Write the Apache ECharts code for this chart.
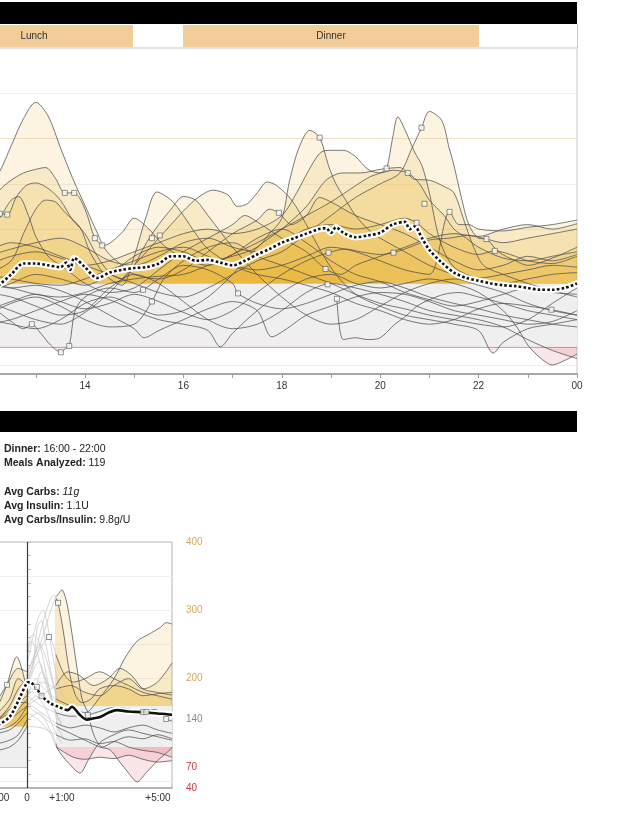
<!DOCTYPE html>
<html><head><meta charset="utf-8">
<script src="https://cdn.jsdelivr.net/npm/echarts@6/dist/echarts.min.js"></script>
<style>html,body{margin:0;padding:0;background:#fff}#c{width:639px;height:834px}</style>
</head><body><div id="c"></div>
<script>
// ---------------- DATA: daily overlay (hour of day, mg/dL) ----------------
const hourTicks = [13,14,15,16,17,18,19,20,21,22,23,24];
const hourLabels = [14,16,18,20,22,24];
const mealBands = [['Lunch', 0, 133], ['Dinner', 183, 479]];
const dayTrace01 = [[12.0,245],[12.25,262],[12.5,292],[12.75,322],[13.0,340],[13.25,325],[13.5,290],[13.75,256],[14.0,226],[14.25,196],[14.4,182],[14.75,196],[15.0,212],[15.3,200],[15.6,182],[16.0,168],[16.5,160],[17.0,172],[17.5,190],[18.0,200],[18.5,185],[19.0,165],[19.5,150],[20.0,142],[20.5,130],[21.0,122],[21.5,115],[22.0,120],[22.5,128],[23.0,135],[23.5,130],[24.0,128]];
const dayTrace02 = [[12.0,225],[12.3,245],[12.5,254],[12.75,262],[13.0,266],[13.2,268],[13.4,256],[13.59,240],[13.78,240],[14.0,222],[14.2,190],[14.35,182],[14.5,172],[14.75,160],[15.0,150],[15.5,145],[16.0,155],[16.5,175],[17.0,195],[17.5,210],[17.75,222],[17.94,218],[18.2,205],[18.5,215],[18.77,235],[19.0,230],[19.5,215],[20.0,205],[20.5,195],[21.0,180],[21.5,165],[22.0,155],[22.5,160],[23.0,170],[23.5,165],[24.0,172]];
const dayTrace03 = [[12.0,205],[12.27,217],[12.42,216],[12.6,235],[12.8,248],[13.0,251],[13.25,245],[13.5,232],[13.75,210],[14.0,195],[14.25,170],[14.5,152],[14.75,145],[15.0,160],[15.25,185],[15.5,205],[15.75,222],[16.0,236],[16.25,232],[16.5,215],[17.0,180],[17.5,150],[18.0,125],[18.5,105],[19.0,95],[19.5,100],[20.0,115],[20.5,130],[21.0,140],[21.5,145],[22.0,138],[22.5,130],[23.0,118],[23.5,110],[24.0,105]];
const dayTrace04 = [[12.0,190],[12.3,215],[12.5,232],[12.65,236],[12.85,215],[13.0,192],[13.25,170],[13.5,160],[13.75,150],[14.0,140],[14.5,130],[15.0,135],[15.5,155],[16.0,175],[16.5,190],[17.0,205],[17.25,215],[17.5,208],[18.0,190],[18.5,175],[18.89,156],[19.2,150],[19.5,160],[20.0,170],[20.5,180],[21.0,190],[21.5,195],[22.0,192],[22.5,200],[23.0,205],[23.5,200],[24.0,206]];
const dayTrace05 = [[12.0,150],[12.5,165],[12.75,195],[13.0,222],[13.2,232],[13.4,230],[13.6,218],[13.9,202],[14.1,175],[14.4,150],[14.75,138],[15.0,170],[15.25,215],[15.46,241],[15.75,232],[16.0,215],[16.25,195],[16.5,178],[17.0,160],[17.5,150],[18.0,145],[18.5,138],[19.0,130],[19.5,118],[20.0,110],[20.5,100],[21.0,95],[21.5,100],[22.0,112],[22.5,118],[23.0,115],[23.48,111],[24.0,105]];
const dayTrace06 = [[12.0,120],[12.5,110],[13.0,100],[13.5,95],[14.0,108],[14.5,130],[15.0,160],[15.5,190],[15.75,205],[16.0,220],[16.3,235],[16.6,243],[16.9,238],[17.1,225],[17.3,228],[17.5,240],[17.7,252],[17.9,248],[18.2,232],[18.5,205],[18.8,175],[19.1,150],[19.5,128],[20.0,115],[20.5,105],[21.0,100],[21.5,95],[22.0,88],[22.3,63],[22.5,75],[23.0,90],[23.5,95],[24.0,100]];
const dayTrace07 = [[12.0,130],[12.5,140],[13.0,150],[13.5,145],[14.0,138],[14.5,150],[15.0,170],[15.5,180],[16.0,175],[16.5,165],[17.0,170],[17.5,180],[17.75,195],[18.0,212],[18.16,254],[18.35,290],[18.57,309],[18.77,301],[18.95,270],[19.1,250],[19.3,232],[19.5,215],[19.75,200],[20.0,190],[20.5,175],[21.0,160],[21.5,150],[22.0,145],[22.5,140],[23.0,145],[23.5,150],[24.0,152]];
const dayTrace08 = [[12.0,160],[12.5,170],[13.0,175],[13.5,168],[14.0,160],[14.5,165],[15.0,175],[15.5,185],[16.0,195],[16.5,200],[17.0,195],[17.5,200],[18.0,215],[18.3,240],[18.6,270],[18.8,285],[19.0,287],[19.25,287],[19.5,280],[19.75,266],[20.0,262],[20.25,265],[20.56,262],[20.8,250],[21.0,232],[21.3,215],[21.5,200],[21.75,190],[22.0,180],[22.5,168],[23.0,165],[23.5,170],[24.0,175]];
const dayTrace09 = [[12.0,140],[12.5,135],[13.0,128],[13.5,125],[14.0,130],[14.5,140],[15.0,145],[15.5,148],[16.0,150],[16.5,160],[17.0,172],[17.5,185],[18.0,200],[18.5,215],[19.0,230],[19.5,248],[19.8,258],[20.0,262],[20.13,267],[20.25,300],[20.36,324],[20.5,310],[20.7,285],[20.85,270],[21.0,240],[21.15,200],[21.3,175],[21.5,158],[21.75,150],[22.0,146],[22.5,150],[23.0,155],[23.5,160],[24.0,158]];
const dayTrace10 = [[12.0,175],[12.5,185],[13.0,180],[13.5,170],[14.0,160],[14.5,150],[15.0,140],[15.5,130],[16.0,125],[16.5,135],[17.0,150],[17.5,165],[18.0,175],[18.5,195],[19.0,215],[19.5,235],[20.0,250],[20.4,262],[20.65,290],[20.84,312],[21.0,330],[21.25,320],[21.4,290],[21.5,270],[21.65,235],[21.8,205],[22.0,190],[22.16,189],[22.4,175],[22.75,165],[23.0,160],[23.5,168],[24.0,180]];
const dayTrace11 = [[12.0,100],[12.5,95],[13.0,90],[13.5,100],[14.0,118],[14.5,125],[15.0,115],[15.5,105],[16.0,110],[16.5,125],[17.0,150],[17.5,180],[18.0,200],[18.5,225],[18.9,254],[19.24,262],[19.6,262],[20.0,266],[20.4,268],[20.7,255],[21.0,254],[21.3,247],[21.5,240],[21.7,210],[21.9,180],[22.1,160],[22.5,150],[23.0,140],[23.5,132],[24.0,125]];
const dayTrace12 = [[12.0,110],[12.5,120],[13.0,128],[13.5,120],[14.0,112],[14.5,118],[15.0,128],[15.5,120],[16.0,108],[16.5,100],[17.0,110],[17.5,130],[18.0,150],[18.5,165],[18.95,174],[19.3,178],[19.6,175],[20.0,172],[20.27,174],[20.6,180],[21.0,188],[21.4,190],[21.8,193],[22.16,189],[22.5,185],[23.0,190],[23.5,195],[24.0,200]];
const dayTrace13 = [[19.12,123],[19.25,78],[19.5,80],[19.75,78],[20.0,80],[20.3,95],[20.5,103],[20.75,115],[21.0,122],[21.3,128],[21.6,130],[22.0,125],[22.5,118],[23.0,110],[23.5,105],[24.0,100]];
const dayTrace14 = [[12.0,95],[12.5,100],[13.0,110],[13.5,120],[14.0,128],[14.5,122],[15.0,110],[15.5,100],[16.0,95],[16.5,88],[16.75,70],[17.0,85],[17.5,110],[18.0,130],[18.5,145],[19.0,150],[19.5,140],[20.0,135],[20.5,140],[21.0,145],[21.5,140],[22.0,130],[22.5,110],[22.8,90],[23.0,72],[23.25,58],[23.5,50],[23.75,55],[24.0,62]];
const dayTrace15 = [[12.0,130],[12.5,125],[13.0,115],[13.5,105],[14.0,110],[14.5,135],[15.0,150],[15.5,140],[16.0,120],[16.5,100],[17.0,90],[17.5,95],[18.0,110],[18.5,130],[19.0,140],[19.5,135],[20.0,128],[20.5,120],[21.0,110],[21.5,105],[22.0,100],[22.5,92],[23.0,78],[23.5,66],[24.0,57]];
const dayTrace16 = [[12.0,115],[12.25,108],[12.5,98],[12.75,90],[12.92,95],[13.1,85],[13.3,72],[13.51,64],[13.6,68],[13.68,71],[13.8,110],[14.0,125],[14.5,135],[15.0,130],[15.18,133],[15.5,145],[16.0,160],[16.5,155],[17.0,140],[17.11,129],[17.5,118],[18.0,112],[18.5,118],[19.0,128],[19.5,138],[20.0,142],[20.5,135],[21.0,125],[21.5,118],[22.0,112],[22.5,105],[23.0,100],[23.5,95],[24.0,92]];
const dayTrace17 = [[12.0,105],[12.5,118],[13.0,125],[13.5,115],[14.0,100],[14.5,92],[15.0,95],[15.36,120],[15.6,145],[16.0,165],[16.5,180],[17.0,185],[17.5,170],[18.0,160],[18.5,150],[19.0,140],[19.5,128],[20.0,118],[20.5,112],[21.0,105],[21.5,100],[22.0,95],[22.5,92],[23.0,100],[23.5,118],[24.0,135]];
const dayTrace18 = [[12.0,170],[12.5,178],[13.0,185],[13.5,190],[14.0,180],[14.5,165],[15.0,160],[15.5,170],[16.0,185],[16.5,190],[17.0,180],[17.5,175],[18.0,185],[18.5,200],[19.0,205],[19.5,200],[20.0,205],[20.5,212],[20.74,207],[21.0,195],[21.5,180],[22.0,172],[22.33,176],[22.75,170],[23.0,165],[23.5,162],[24.0,170]];
const dayTrace19 = [[12.0,140],[12.5,135],[13.0,138],[13.5,132],[14.0,120],[14.5,105],[15.0,90],[15.2,80],[15.5,88],[16.0,100],[16.5,112],[17.0,120],[17.5,110],[17.8,81],[18.1,90],[18.5,105],[19.0,115],[19.5,125],[20.0,130],[20.5,128],[21.0,120],[21.5,110],[22.0,105],[22.5,100],[23.0,95],[23.5,98],[24.0,110]];
const dayTrace20 = [[12.0,150],[12.5,145],[13.0,140],[13.5,138],[14.0,145],[14.5,155],[15.0,165],[15.5,175],[16.0,180],[16.5,170],[17.0,160],[17.5,155],[18.0,160],[18.5,170],[19.0,180],[19.5,175],[20.0,165],[20.5,155],[21.0,150],[21.41,219],[21.6,205],[21.8,205],[22.0,200],[22.5,198],[23.0,202],[23.5,205],[24.0,210]];
const dayMedian = [[12.0,128],[12.25,138],[12.5,150],[12.75,162],[13.0,162],[13.25,160],[13.5,158],[13.62,163],[13.7,155],[13.78,168],[14.0,158],[14.25,146],[14.5,152],[14.75,155],[15.0,157],[15.25,158],[15.5,162],[15.75,170],[16.0,170],[16.25,165],[16.5,166],[16.75,163],[17.0,160],[17.25,165],[17.5,172],[17.75,178],[18.0,185],[18.25,190],[18.5,195],[18.75,200],[18.9,201],[19.0,196],[19.1,202],[19.25,196],[19.5,191],[19.75,193],[20.0,196],[20.25,205],[20.5,208],[20.6,200],[20.7,203],[20.85,190],[21.0,177],[21.25,163],[21.5,152],[21.75,146],[22.0,143],[22.25,140],[22.5,138],[22.75,137],[23.0,135],[23.25,133],[23.5,133],[23.75,135],[24.0,140]];
const dayMarkers = [[12.27,217],[12.42,216],[12.92,95],[13.51,64],[13.59,240],[13.68,71],[13.78,240],[14.2,190],[14.35,182],[15.18,133],[15.36,120],[15.36,190],[15.52,193],[17.11,129],[17.94,218],[18.77,301],[18.89,156],[18.93,139],[18.95,174],[19.12,123],[20.13,267],[20.27,174],[20.56,262],[20.74,207],[20.84,312],[20.9,228],[21.41,219],[22.16,189],[22.33,176],[23.48,111]];

// ---------------- DATA: meal analysis (hours from meal, mg/dL) ----------------
const mealTickLabels = [-1,0,1,5];
const glucoseLabels = [40,70,140,200,300,400];
const mealTrace01 = [[-1,140],[-0.6,160],[-0.3,185],[0,200],[0.3,230],[0.6,270],[0.9,310],[1.0,320],[1.1,325],[1.2,330],[1.35,315],[1.5,280],[1.72,217],[1.9,170],[2.1,150],[2.3,118],[2.6,100],[3.0,108],[3.5,115],[4.0,112],[4.5,118],[5.0,112]];
const mealTrace02 = [[-1,150],[-0.6,170],[-0.3,200],[0,190],[0.3,240],[0.6,290],[0.85,320],[0.95,322],[1.0,318],[1.07,311],[1.25,270],[1.45,213],[1.65,178],[1.9,165],[2.2,170],[2.5,185],[3.0,190],[3.5,185],[4.0,175],[4.5,178],[5.0,180]];
const mealTrace03 = [[-1,135],[-0.6,140],[-0.3,155],[0,170],[0.3,200],[0.6,185],[1.0,170],[1.5,160],[2.0,150],[2.5,172],[3.0,200],[3.4,232],[3.8,255],[4.2,265],[4.6,275],[4.8,282],[5.0,280]];
const mealTrace04 = [[-1,160],[-0.7,190],[-0.35,232],[-0.15,210],[0,180],[0.5,195],[1.0,185],[1.5,190],[2.0,180],[2.5,175],[3.0,190],[3.5,200],[4.0,185],[4.5,195],[5.0,223]];
const mealTrace05 = [[-1,170],[-0.69,191],[-0.3,215],[0,210],[0.4,240],[0.76,261],[1.0,235],[1.3,205],[1.6,195],[2.0,200],[2.5,210],[3.0,200],[3.5,190],[4.0,180],[4.5,175],[5.0,170]];
const mealTrace06 = [[-1,125],[-0.6,130],[-0.3,140],[0,160],[0.5,175],[1.0,190],[1.4,210],[1.8,205],[2.3,190],[2.8,200],[3.2,215],[3.6,205],[4.0,185],[4.5,180],[5.0,176]];
const mealTrace07 = [[-1,140],[-0.6,150],[-0.3,165],[0,175],[0.5,160],[1.0,150],[1.5,145],[2.1,147],[2.5,152],[3.0,158],[3.5,156],[4.0,152],[4.4,155],[4.8,141],[5.0,138]];
const mealTrace08 = [[-1,120],[-0.6,125],[-0.3,135],[0,150],[0.4,140],[0.8,120],[1.0,100],[1.3,92],[1.6,85],[2.0,82],[2.5,85],[3.0,83],[3.5,88],[4.0,82],[4.5,78],[5.0,80]];
const mealTrace09 = [[-1,105],[-0.6,110],[-0.3,118],[0,140],[0.4,150],[0.8,125],[1.0,105],[1.07,96],[1.4,78],[1.83,62],[2.1,80],[2.5,106],[3.0,118],[3.5,125],[4.0,120],[4.5,115],[5.0,110]];
const mealTrace10 = [[-1,130],[-0.6,140],[-0.3,150],[0,160],[0.5,145],[1.0,130],[1.5,120],[2.0,110],[2.5,100],[2.86,96],[3.2,78],[3.5,62],[3.8,49],[4.1,62],[4.5,80],[4.93,96],[5.0,100]];
const mealTrace11 = [[-1,140],[-0.6,155],[-0.3,165],[0,165],[0.5,150],[1.0,135],[1.5,128],[2.0,132],[2.5,128],[3.0,122],[3.5,128],[4.0,132],[4.5,125],[5.0,120]];
const mealTrace12 = [[-1,95],[-0.6,100],[-0.3,110],[0,130],[0.5,128],[1.0,118],[1.5,110],[2.0,112],[2.5,105],[3.0,108],[3.5,100],[4.0,95],[4.5,92],[5.0,85]];
const mealEarly01 = [[0,220],[0.2,260],[0.4,290],[0.55,300],[0.7,280],[0.9,230],[1.1,190],[1.3,170]];
const mealEarly02 = [[0,205],[0.25,235],[0.45,250],[0.65,230],[0.85,200],[1.0,175],[1.2,150]];
const mealEarly03 = [[0,185],[0.2,210],[0.4,225],[0.6,205],[0.8,175],[1.0,150],[1.2,135]];
const mealEarly04 = [[0,230],[0.15,255],[0.3,245],[0.5,215],[0.7,185],[0.9,160],[1.1,140]];
const mealEarly05 = [[0,175],[0.3,190],[0.5,210],[0.7,195],[0.9,165],[1.1,125],[1.3,110]];
const mealEarly06 = [[0,195],[0.2,215],[0.35,275],[0.5,285],[0.65,250],[0.85,205],[1.05,170]];
const mealEarly07 = [[0,160],[0.3,175],[0.6,160],[0.8,140],[1.0,120],[1.2,105]];
const mealEarly08 = [[0,240],[0.2,265],[0.4,255],[0.6,220],[0.8,180],[1.0,150],[1.2,130]];
const mealMedian = [[-1,132],[-0.6,144],[-0.24,173],[0,194],[0.1,195],[0.3,187],[0.55,173],[0.8,164],[1.07,159],[1.3,155],[1.41,154],[1.55,159],[1.8,148],[2.07,140],[2.3,142],[2.52,144],[2.8,150],[3.1,154],[3.5,152],[4.0,151],[4.5,149],[4.83,148],[5.0,147]];
const mealMarkers = [[-0.69,191],[0.34,188],[0.5,175],[0.76,261],[1.07,311],[2.1,147],[4.0,151],[4.12,151],[4.8,141]];

// ---------------- LAYOUT ----------------
const FONT = '"Liberation Sans", Arial, sans-serif';
const SM = 0.3;
const D_TOP = 48, D_H = 326, D_LEFT = -2, D_W = 579, D_MIN = 12.232, D_MAX = 24;
const M_TOP = 542, M_H = 246, M_LEFT = -2, M_W = 174, M_MIN = -1, M_MAX = 5;
const kD = D_H / 360, kM = M_H / 360, pxH = M_W / (M_MAX - M_MIN);
const YELLOW = 'rgba(236,178,40,0.2)', PINK = 'rgba(222,80,100,0.2)';
const TRACE = '#4d4d4d', EARLY = '#c4c4c4';
// clip windows sit 1px away from the fill origin so no hairline appears at the origin
const gD = 1 / kD, gM = 1 / kM;

const dayTraces = [dayTrace01,dayTrace02,dayTrace03,dayTrace04,dayTrace05,dayTrace06,dayTrace07,dayTrace08,dayTrace09,dayTrace10,dayTrace11,dayTrace12,dayTrace13,dayTrace14,dayTrace15,dayTrace16,dayTrace17,dayTrace18,dayTrace19,dayTrace20];
const mealTraces = [mealTrace01,mealTrace02,mealTrace03,mealTrace04,mealTrace05,mealTrace06,mealTrace07,mealTrace08,mealTrace09,mealTrace10,mealTrace11,mealTrace12];
const mealEarly = [mealEarly01,mealEarly02,mealEarly03,mealEarly04,mealEarly05,mealEarly06,mealEarly07,mealEarly08];
const minOf = tr => Math.min.apply(null, tr.map(p => p[1]));

const dYmin = 140 + gD, dPmax = 70 - gD;
const mPreMin = 130 + gM, mPostMin = 160 + gM, mPinkMax = 100 - gM;
const grid = [
  {left:D_LEFT, top:D_TOP, width:D_W, height:D_H, show:true, borderColor:'#c6c6c6', borderWidth:1, backgroundColor:'transparent'},
  {left:D_LEFT, top:D_TOP, width:D_W, height:(400-dYmin)*kD},
  {left:D_LEFT, top:D_TOP+(400-dPmax)*kD, width:D_W, height:(dPmax-40)*kD},
  {left:M_LEFT, top:M_TOP, width:M_W, height:M_H, show:true, borderColor:'#b4b4b4', borderWidth:1, backgroundColor:'transparent'},
  {left:M_LEFT, top:M_TOP, width:pxH, height:(400-mPreMin)*kM},
  {left:M_LEFT+2*pxH, top:M_TOP, width:4*pxH, height:(400-mPostMin)*kM},
  {left:M_LEFT+2*pxH, top:M_TOP+(400-mPinkMax)*kM, width:4*pxH, height:(mPinkMax-40)*kM}
].map(g => Object.assign({containLabel:false, outerBoundsMode:'none'}, g));

const hidden = {show:false};
const xAxis = [
  {gridIndex:0, type:'value', min:D_MIN, max:D_MAX,
   axisLine:{show:true, lineStyle:{color:'#a8a8a8', width:2}},
   axisTick:{show:true, customValues:hourTicks, length:4, lineStyle:{color:'#a0a0a0'}},
   axisLabel:{customValues:hourLabels, formatter:v => v === 24 ? '00' : String(v), color:'#333', fontSize:10, fontFamily:FONT, margin:7},
   splitLine:hidden},
  {gridIndex:1, type:'value', min:D_MIN, max:D_MAX, show:false},
  {gridIndex:2, type:'value', min:D_MIN, max:D_MAX, show:false},
  {gridIndex:3, type:'value', min:M_MIN, max:M_MAX,
   axisLine:{show:true, lineStyle:{color:'#a8a8a8', width:1.5}},
   axisTick:hidden,
   axisLabel:{customValues:mealTickLabels, color:'#333', fontSize:10, fontFamily:FONT, margin:5,
     formatter:v => v === -1 ? '-1:00' : v === 0 ? '0' : v === 1 ? '{a|+1:00}' : '{b|+' + v + ':00}',
     rich:{a:{padding:[0,0,0,12], fontSize:10, fontFamily:FONT, color:'#333'}, b:{padding:[0,28,0,0], fontSize:10, fontFamily:FONT, color:'#333'}}},
   splitLine:hidden},
  {gridIndex:4, type:'value', min:-1, max:0, show:false},
  {gridIndex:5, type:'value', min:1, max:5, show:false},
  {gridIndex:6, type:'value', min:1, max:5, show:false}
];
const yAxis = [
  {gridIndex:0, type:'value', min:40, max:400, show:false},
  {gridIndex:1, type:'value', min:dYmin, max:400, show:false},
  {gridIndex:2, type:'value', min:40, max:dPmax, show:false},
  {gridIndex:3, type:'value', min:40, max:400, interval:20, position:'right',
   axisLine:{show:true, lineStyle:{color:'#b4b4b4'}},
   axisTick:{show:true, length:4, lineStyle:{color:'#bdbdbd'}},
   axisLabel:{customValues:glucoseLabels, margin:14, fontSize:10, fontFamily:FONT,
     formatter:v => v >= 200 ? '{g|' + v + '}' : v >= 100 ? '{n|' + v + '}' : '{r|' + v + '}',
     rich:{g:{color:'#d6ac5c', fontSize:10, fontFamily:FONT}, n:{color:'#8a8a8a', fontSize:10, fontFamily:FONT}, r:{color:'#c83a3a', fontSize:10, fontFamily:FONT}}},
   splitLine:hidden},
  {gridIndex:4, type:'value', min:mPreMin, max:400, show:false},
  {gridIndex:5, type:'value', min:mPostMin, max:400, show:false},
  {gridIndex:6, type:'value', min:40, max:mPinkMax, show:false}
];

const gl = (v, c) => ({yAxis:v, lineStyle:{color:c, width:1, type:'solid'}});
const fill = (xi, tr, color, origin) => ({type:'line', xAxisIndex:xi, yAxisIndex:xi, data:tr, smooth:SM, symbol:'none', silent:true, z:3,
  lineStyle:{opacity:0}, areaStyle:{color, origin}});
const line = (xi, tr, color, width) => ({type:'line', xAxisIndex:xi, yAxisIndex:xi, data:tr, smooth:SM, symbol:'none', silent:true, z:4,
  lineStyle:{color, width}});
const S = [];
// ---- daily overlay ----
S.push({type:'line', xAxisIndex:0, yAxisIndex:0, data:[], silent:true, z:1,
  markArea:{silent:true, z:1, itemStyle:{color:'#efefef'}, data:[[{yAxis:70},{yAxis:140}]]},
  markLine:{silent:true, z:2, symbol:['none','none'], label:{show:false},
    data:[gl(50,'#ececec'), gl(200,'#efefef'), gl(250,'#efefef'), gl(300,'#efe2cc'), gl(350,'#f0f0f0'),
          {yAxis:70, lineStyle:{color:'#eea283', width:1.2, type:'solid'}}]}});
dayTraces.forEach(tr => S.push(fill(1, tr, YELLOW, 140)));
dayTraces.filter(tr => minOf(tr) < 70).forEach(tr => S.push(fill(2, tr, PINK, 70)));
dayTraces.forEach(tr => S.push(line(0, tr, TRACE, 0.75)));
S.push({type:'line', xAxisIndex:0, yAxisIndex:0, data:dayMedian, smooth:SM, symbol:'none', silent:true, z:5,
  lineStyle:{color:'#ffffff', width:6.5, cap:'round'}});
S.push({type:'line', xAxisIndex:0, yAxisIndex:0, data:dayMedian, smooth:SM, symbol:'none', silent:true, z:6,
  lineStyle:{color:'#111', width:2.6, type:[2.6,2.2]}});
S.push({type:'scatter', xAxisIndex:0, yAxisIndex:0, data:dayMarkers, symbol:'rect', symbolSize:5, silent:true, z:7,
  itemStyle:{color:'#fff', borderColor:'#555', borderWidth:0.8}});

// ---- meal analysis ----
S.push({type:'line', xAxisIndex:3, yAxisIndex:3, data:[], silent:true, z:1,
  markArea:{silent:true, z:1, itemStyle:{color:'#efefef'},
    data:[[{xAxis:-1,yAxis:70},{xAxis:0,yAxis:130}], [{xAxis:1,yAxis:100},{xAxis:5,yAxis:160}]]},
  markLine:{silent:true, z:2, symbol:['none','none'], label:{show:false},
    data:[gl(50,'#ececec'), gl(200,'#efefef'), gl(250,'#efefef'), gl(300,'#efefef'), gl(350,'#f0f0f0'),
          [{coord:[-1,70], lineStyle:{color:'#eeb0b0', width:1, type:'solid'}},{coord:[0,70]}]]}});
mealTraces.forEach(tr => S.push(fill(4, tr, YELLOW, 130)));
mealTraces.forEach(tr => S.push(fill(5, tr, YELLOW, 160)));
mealTraces.filter(tr => minOf(tr.filter(p => p[0] >= 1)) < 100).forEach(tr => S.push(fill(6, tr, PINK, 100)));
mealEarly.forEach(tr => S.push(line(3, tr, EARLY, 0.7)));
// each meal trace: dark before the meal, light during the first hour, dark afterwards
mealTraces.forEach(tr => {
  S.push(line(3, tr.filter(p => p[0] <= 0), TRACE, 0.75));
  S.push(line(3, tr.filter(p => p[0] >= 0 && p[0] <= 1), EARLY, 0.7));
  S.push(line(3, tr.filter(p => p[0] >= 1), TRACE, 0.75));
});
S.push({type:'line', xAxisIndex:3, yAxisIndex:3, data:[], silent:true, z:5,
  markLine:{silent:true, z:5, symbol:['none','none'], label:{show:false},
    data:[{xAxis:0, lineStyle:{color:'#3a3a3a', width:1.2, type:'solid'}}]}});
S.push({type:'line', xAxisIndex:3, yAxisIndex:3, data:mealMedian, smooth:SM, symbol:'none', silent:true, z:5,
  lineStyle:{color:'#ffffff', width:6.5, cap:'round'}});
S.push({type:'line', xAxisIndex:3, yAxisIndex:3, data:mealMedian.filter(p => p[0] <= 1.3), smooth:SM, symbol:'none', silent:true, z:6,
  lineStyle:{color:'#111', width:2.6, type:[2.6,2.2]}});
S.push({type:'line', xAxisIndex:3, yAxisIndex:3, data:mealMedian.filter(p => p[0] >= 1.3), smooth:SM, symbol:'none', silent:true, z:6,
  lineStyle:{color:'#111', width:2.6}});
S.push({type:'scatter', xAxisIndex:3, yAxisIndex:3, data:mealMarkers, symbol:'rect', symbolSize:5, silent:true, z:7,
  itemStyle:{color:'#fff', borderColor:'#555', borderWidth:0.8}});

// ---- page furniture: headers, meal band row, summary text ----
const T = (text, x, y, extra) => ({type:'text', z:100, style:Object.assign({text, x, y, fontSize:10, fontFamily:FONT, fill:'#222', verticalAlign:'middle'}, extra || {})});
const RICH = {b:{fontWeight:'bold', fontSize:10.5, fontFamily:FONT, fill:'#222'}, i:{fontStyle:'italic', fontSize:10.5, fontFamily:FONT, fill:'#222'}};
const graphic = [
  {type:'rect', z:100, shape:{x:0, y:2, width:577, height:22}, style:{fill:'#000'}},
  {type:'rect', z:100, shape:{x:0, y:411, width:577, height:21}, style:{fill:'#000'}},
  {type:'line', z:100, shape:{x1:577.5, y1:24, x2:577.5, y2:48}, style:{stroke:'#c6c6c6', lineWidth:1}}
];
mealBands.forEach(([name, x0, x1]) => {
  graphic.push({type:'rect', z:100, shape:{x:x0, y:25, width:x1 - x0, height:22}, style:{fill:'#f3cd99'}});
  graphic.push(T(name, name === 'Lunch' ? 34 : (x0 + x1) / 2, 36, {align:'center', fill:'#333'}));
});
graphic.push(T('{b|Dinner:} 16:00 - 22:00', 4, 449, {rich:RICH, fontSize:10.5}));
graphic.push(T('{b|Meals Analyzed:} 119', 4, 463, {rich:RICH, fontSize:10.5}));
graphic.push(T('{b|Avg Carbs:} {i|11g}', 4, 492, {rich:RICH, fontSize:10.5}));
graphic.push(T('{b|Avg Insulin:} 1.1U', 4, 506, {rich:RICH, fontSize:10.5}));
graphic.push(T('{b|Avg Carbs/Insulin:} 9.8g/U', 4, 520, {rich:RICH, fontSize:10.5}));

const chart = echarts.init(document.getElementById('c'), null, {renderer:'canvas'});
chart.setOption({
  animation:false,
  backgroundColor:'#ffffff',
  textStyle:{fontFamily:FONT},
  grid, xAxis, yAxis,
  series:S,
  graphic
});
</script></body></html>
